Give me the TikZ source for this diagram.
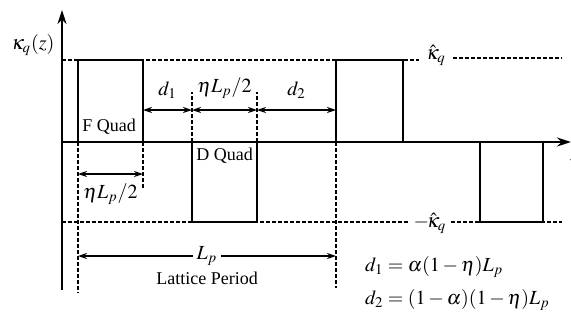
\documentclass[tikz,border=0pt]{standalone}
\usepackage{mathptmx}
\usepackage[no-math]{fontspec}
\setmainfont{Liberation Serif}
\usetikzlibrary{arrows.meta,positioning}

\begin{document}
\begin{tikzpicture}[x=0.5pt,y=-0.5pt,>={Stealth[length=4.5pt,width=3pt]},
  axis/.style={line width=1pt,-{Stealth[length=7pt,width=4.5pt]}},
  quad/.style={line width=1pt},
  guide/.style={line width=0.55pt,dash pattern=on 2pt off 1pt},
  dim/.style={<->,line width=0.6pt},
  txt/.style={font=\small,inner sep=1pt}]
  \useasboundingbox (0,0) rectangle (571,322);

  % axes
  \coordinate (ybot) at (62,290);
  \coordinate (ytop) at (62,10);
  \coordinate (O) at (62,142);
  \coordinate (xend) at (571,142);
  \node (kz) at (33,45) {$\kappa_q(z)$};
  \node[anchor=west] (zl) at (563,157) {$z$};

  % levels
  \node (kp) at (436,55) {$\hat{\kappa}_q$};
  \node[inner sep=2pt] (km) at (430,223) {${-}\!\hat{\kappa}_q$};
  \draw[guide] (62,60) -- (kp.west |- 0,60);
  \draw[guide] (kp.east |- 0,58) -- (562,58);
  \draw[guide] (62,222) -- (km.west |- 0,222);
  \draw[guide] (km.east |- 0,222) -- (562,222);

  % quads
  \draw[quad] (78,142) |- (143,60) -- (143,142);
  \draw[quad] (192,142) |- (257,222) -- (257,142);
  \draw[quad] (336,142) |- (403,60) -- (403,142);
  \draw[quad] (480,142) |- (543,222) -- (543,142);
  \node[txt,anchor=south west] (fq) at (80,137) {F Quad};
  \node[txt,anchor=north west] (dq) at (194,146) {D Quad};

  \draw[axis] (ybot) -- (ytop);
  \draw[axis] (O) -- (xend);

  % guide lines
  \coordinate (a) at (78,174);
  \coordinate (b) at (143,174);
  \coordinate (c) at (192,110);
  \coordinate (d) at (257,110);
  \coordinate (e) at (336,256);
  \coordinate (f) at (78,256);
  \draw[guide] (78,142) -- (78,293);
  \draw[guide] (143,142) -- (143,190);
  \draw[guide] (192,142) -- (192,92);
  \draw[guide] (257,142) -- (257,92);
  \draw[guide] (336,142) -- (336,288);

  % dimensions
  \draw[dim] (b |- c) -- (c) node[midway,above=2pt] {$d_1$};
  \draw[dim] (c) -- (d) node[midway,above=2pt] {$\eta L_p/2$};
  \draw[dim] (d) -- (e |- d) node[midway,above=2pt] {$d_2$};
  \draw[dim] (a) -- (b) node[midway,below=1pt] {$\eta L_p/2$};
  \draw[dim] (f) -- (e) node[pos=0.5,fill=white,inner sep=2pt] (lp) {$L_p$};
  \node[txt,below=0pt of lp] (per) {Lattice Period};

  % relations
  \node[anchor=west] (r1) at (358,267) {$d_1=\alpha(1-\eta)L_p$};
  \node[anchor=west] (r2) at (358,300) {$d_2=(1-\alpha)(1-\eta)L_p$};
\end{tikzpicture}
\end{document}
